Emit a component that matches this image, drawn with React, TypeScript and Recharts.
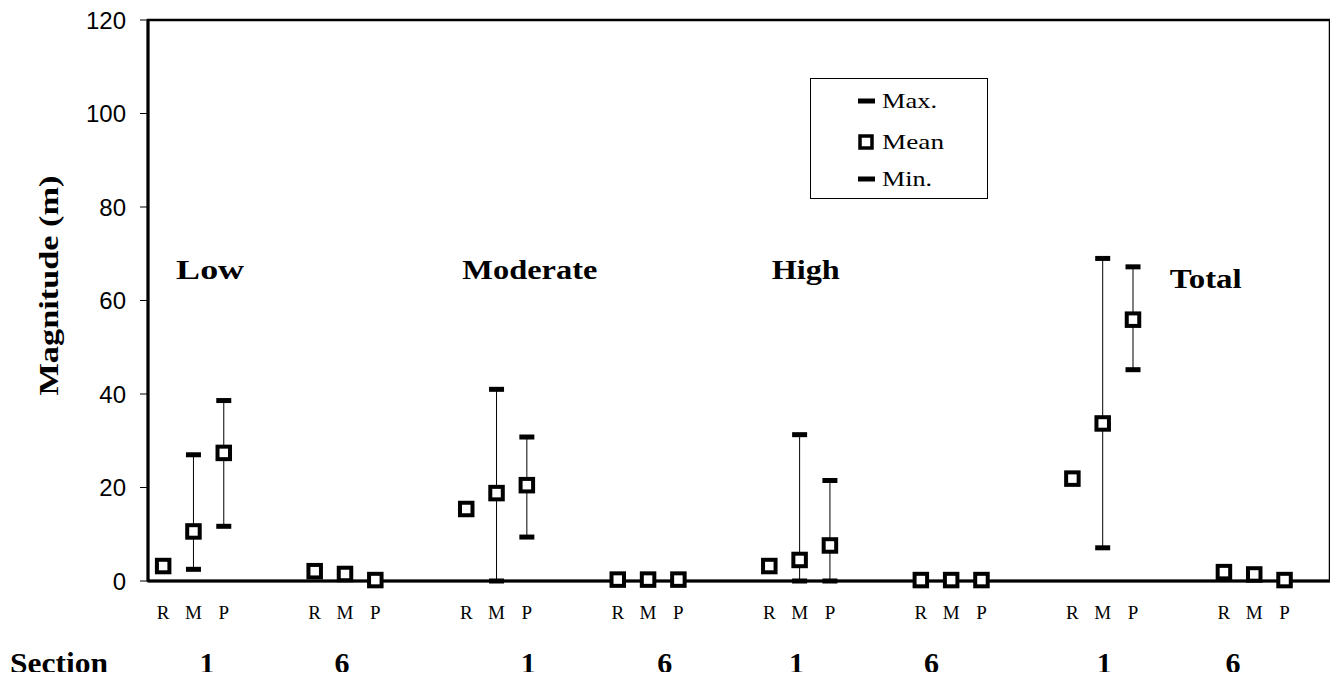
import { ScatterChart, Scatter, XAxis, YAxis, ErrorBar, ReferenceArea, Label } from "recharts";

// Each group/section has R, M, P; order: Low s1, Low s6, Moderate s1, Moderate s6, High s1, ...
const groups = ["Low", "Moderate", "High", "Total"];
const sections = ["1", "6", "1", "6", "1", "6", "1", "6"];
const letters = ["R", "M", "P"];

const means = [3.2, 10.6, 27.4, 2.1, 1.5, 0.2, 15.4, 18.8, 20.5, 0.3, 0.3, 0.3, 3.2, 4.5, 7.6, 0.2, 0.2, 0.2, 21.9, 33.7, 55.9, 1.9, 1.4, 0.2];
const maxs = [null, 27.0, 38.6, null, null, null, null, 41.0, 30.8, null, null, null, null, 31.3, 21.5, null, null, null, null, 69.0, 67.2, null, null, null];
const mins = [null, 2.5, 11.7, null, null, null, null, 0, 9.4, null, null, null, null, 0, 0, null, null, null, null, 7.1, 45.2, null, null, null];

// where the section numbers and group titles sit (x in slots, y in metres)
const sectionTicks = [1.95, 6.4, 12.55, 17.05, 21.4, 25.85, 31.55, 35.8];
const groupTitleX = [2.05, 12.6, 21.7, 34.9];
const groupTitleY = [66.5, 66.5, 66.5, 64.5];
const groupTitleWidth = [68, 135, 68, 72];

const SERIF = "'Liberation Serif', 'Times New Roman', serif";
const SANS = "'Liberation Sans', Arial, sans-serif";

const slot = (i: number) => Math.floor(i / 3) * 5 + 0.5 + (i % 3);

const meanData = means.map((m, i) => ({
  x: slot(i),
  y: m,
  err: maxs[i] == null ? [0, 0] : [m - (mins[i] as number), (maxs[i] as number) - m],
}));
const maxData = maxs.map((v, i) => ({ x: slot(i), y: v })).filter((d) => d.y != null);
const minData = mins.map((v, i) => ({ x: slot(i), y: v })).filter((d) => d.y != null);
const titleData = groups.map((g, i) => ({ x: groupTitleX[i], y: groupTitleY[i], name: g, w: groupTitleWidth[i] }));
const xTicks = means.map((_, i) => slot(i));

const Square = (p: any) => (
  <rect x={p.cx - 6.25} y={p.cy - 6.25} width={12.5} height={12.5} fill="#fff" stroke="#000" strokeWidth={4} />
);
const Dash = (p: any) => <rect x={p.cx - 7.5} y={p.cy - 2.5} width={15} height={5} fill="#000" />;
const Title = (p: any) => (
  <text
    x={p.cx - p.payload.w / 2}
    y={p.cy + 9}
    textLength={p.payload.w}
    lengthAdjust="spacingAndGlyphs"
    fontFamily={SERIF}
    fontWeight="bold"
    fontSize={27}
    fill="#000"
  >
    {p.payload.name}
  </text>
);

function LegendBox() {
  const items = [
    { label: "Max.", w: 55, kind: "dash" },
    { label: "Mean", w: 62, kind: "square" },
    { label: "Min.", w: 50, kind: "dash" },
  ];
  const rowY = [23, 64, 101];
  return (
    <svg width={178} height={121} style={{ position: "absolute", left: 810, top: 78 }}>
      <rect x={0.5} y={0.5} width={177} height={120} fill="#fff" stroke="#000" strokeWidth={1} />
      {items.map((it, i) => (
        <g key={it.label}>
          {it.kind === "dash" ? (
            <rect x={48} y={rowY[i] - 2.5} width={17} height={5} fill="#000" />
          ) : (
            <rect x={50} y={rowY[i] - 6} width={12} height={12} fill="#fff" stroke="#000" strokeWidth={3.5} />
          )}
          <text x={72} y={rowY[i] + 7} textLength={it.w} lengthAdjust="spacingAndGlyphs" fontFamily={SERIF} fontSize={22} fill="#000">
            {it.label}
          </text>
        </g>
      ))}
    </svg>
  );
}

export default function App() {
  return (
    <div style={{ margin: -8, background: "#fff", width: 1338, height: 680, position: "relative" }}>
      <ScatterChart width={1338} height={680} margin={{ top: 20, right: 8, left: 0, bottom: 0 }}>
        <ReferenceArea x1={0} x2={39} y1={0} y2={120} fill="none" stroke="#000" strokeWidth={2.5} ifOverflow="extendDomain" />
        <XAxis
          type="number"
          dataKey="x"
          domain={[0, 39]}
          ticks={xTicks}
          interval={0}
          height={50}
          tickLine={false}
          tickMargin={19}
          axisLine={{ stroke: "#000", strokeWidth: 3 }}
          tick={{ fontFamily: SERIF, fontSize: 19, fill: "#000" }}
          tickFormatter={(_v: number, i: number) => letters[i % 3]}
        />
        <XAxis
          xAxisId="sec"
          type="number"
          dataKey="x"
          domain={[0, 39]}
          ticks={sectionTicks}
          interval={0}
          height={49}
          tickLine={false}
          axisLine={false}
          tickMargin={15}
          tick={{ fontFamily: SERIF, fontSize: 30, fontWeight: "bold", fill: "#000" }}
          tickFormatter={(_v: number, i: number) => sections[i]}
        >
          <Label
            content={(props: any) => (
              <text x={10} y={props.viewBox.y + 42} textLength={98} lengthAdjust="spacingAndGlyphs" fontFamily={SERIF} fontSize={30} fontWeight="bold" fill="#000">
                Section
              </text>
            )}
          />
        </XAxis>
        <YAxis
          type="number"
          dataKey="y"
          domain={[0, 120]}
          ticks={[0, 20, 40, 60, 80, 100, 120]}
          width={148}
          tickSize={8}
          tickMargin={14}
          axisLine={{ stroke: "#000", strokeWidth: 3 }}
          tickLine={{ stroke: "#000", strokeWidth: 1 }}
          tick={{ fontFamily: SANS, fontSize: 24, fill: "#000" }}
        >
          <Label
            content={(props: any) => {
              const cx = 48;
              const cy = props.viewBox.y + props.viewBox.height / 2 - 15;
              return (
                <text
                  x={cx - 110}
                  y={cy + 10}
                  textLength={220}
                  lengthAdjust="spacingAndGlyphs"
                  transform={`rotate(-90, ${cx}, ${cy})`}
                  fontFamily={SERIF}
                  fontWeight="bold"
                  fontSize={28}
                  fill="#000"
                >
                  Magnitude (m)
                </text>
              );
            }}
          />
        </YAxis>
        <Scatter data={titleData} xAxisId="sec" shape={Title} isAnimationActive={false} />
        <Scatter data={maxData} shape={Dash} isAnimationActive={false} />
        <Scatter data={minData} shape={Dash} isAnimationActive={false} />
        <Scatter data={meanData} shape={Square} isAnimationActive={false}>
          <ErrorBar dataKey="err" direction="y" width={0} stroke="#000" strokeWidth={1} />
        </Scatter>
      </ScatterChart>
      <LegendBox />
    </div>
  );
}
